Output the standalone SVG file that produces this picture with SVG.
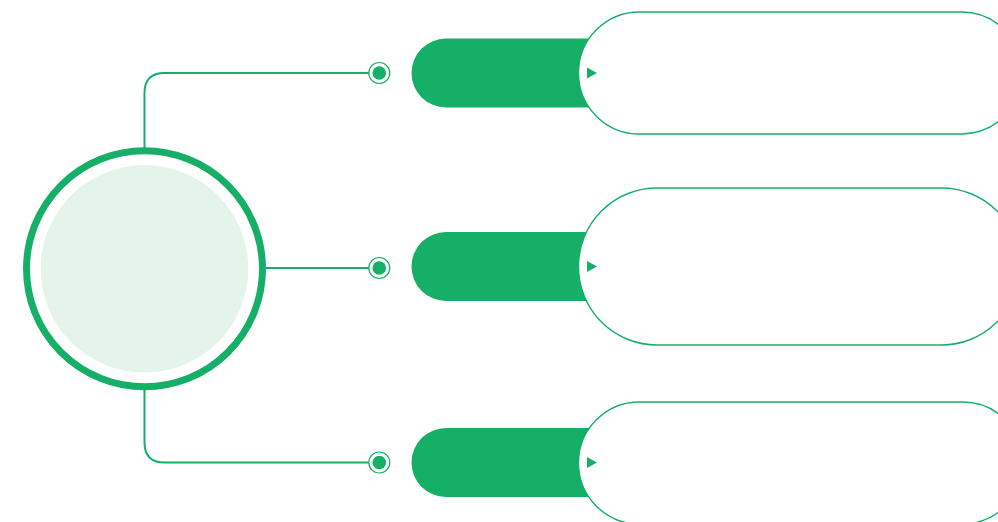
<svg xmlns="http://www.w3.org/2000/svg" width="998" height="522" viewBox="0 0 998 522">
<defs>
<style>
.conn{fill:none;stroke:#16af68;stroke-width:2}
.dotring{fill:#fff;stroke:#16af68;stroke-width:1.2}
.dot{fill:#16af68}
.tab{fill:#16af68}
.card{fill:#fff;stroke:#16af68;stroke-width:1.4}
.tri{fill:#16af68}
</style>
</defs>
<rect width="998" height="522" fill="#fff"/>
<g id="connectors">
<path class="conn" d="M144.5 150 V93 Q144.5 73 164.5 73 H369"/>
<path class="conn" d="M266 268 H369"/>
<path class="conn" d="M144.5 388 V442.5 Q144.5 462.5 164.5 462.5 H369"/>
</g>
<g id="hub">
<circle cx="144.5" cy="268.8" r="103.8" fill="#e4f4ea"/>
<circle cx="144.5" cy="268.8" r="118" fill="none" stroke="#16af68" stroke-width="7"/>
</g>
<g id="dot-1"><circle class="dotring" cx="379.3" cy="73" r="10.5"/><circle class="dot" cx="379.3" cy="73" r="6.8"/></g>
<g id="dot-2"><circle class="dotring" cx="379.3" cy="268" r="10.5"/><circle class="dot" cx="379.3" cy="268" r="6.8"/></g>
<g id="dot-3"><circle class="dotring" cx="379.3" cy="462.5" r="10.5"/><circle class="dot" cx="379.3" cy="462.5" r="6.8"/></g>
<g id="item-1">
<rect class="tab" x="411.5" y="38.5" width="230" height="69" rx="34.5"/>
<rect class="card" x="578.5" y="12" width="444" height="122" rx="61"/>
<polygon class="tri" points="587,67.5 597,73 587,78.5"/>
</g>
<g id="item-2">
<rect class="tab" x="411.5" y="232" width="230" height="69" rx="34.5"/>
<rect class="card" x="578.5" y="188" width="441.5" height="157" rx="78.5"/>
<polygon class="tri" points="587,261 597,266.5 587,272"/>
</g>
<g id="item-3">
<rect class="tab" x="411.5" y="428" width="230" height="69" rx="34.5"/>
<rect class="card" x="578.5" y="402" width="445" height="122" rx="61"/>
<polygon class="tri" points="587,457 597,462.5 587,468"/>
</g>
</svg>
